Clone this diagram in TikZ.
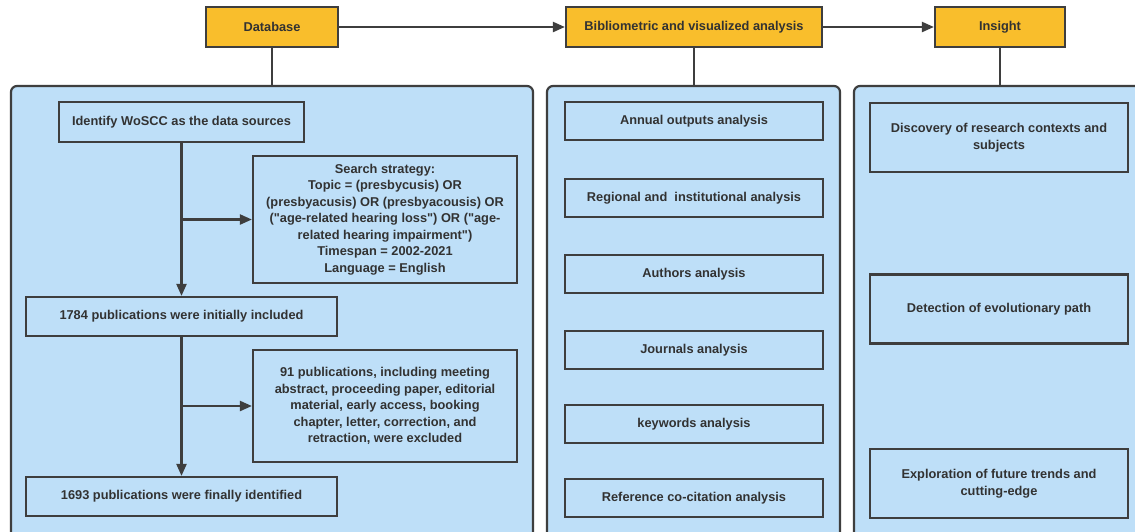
\documentclass[tikz,border=0pt]{standalone}
\usepackage{fontspec}
\setmainfont{Liberation Sans}
\usetikzlibrary{arrows.meta}
\definecolor{gold}{RGB}{249,190,44}
\definecolor{paleblue}{RGB}{190,223,248}
\definecolor{edge}{RGB}{62,62,62}
\definecolor{ink}{RGB}{50,50,50}
\newcommand{\dq}{\textquotedbl}
\tikzset{
    topbox/.style={draw=edge,fill=gold,line width=2.2pt,inner sep=0pt,text=ink,
        font=\bfseries\fontsize{12.8}{16.5}\selectfont},
    panel/.style={draw=edge,fill=paleblue,line width=2.2pt,rounded corners=6pt,inner sep=0pt},
    item/.style={draw=edge,fill=paleblue,line width=2.2pt,inner sep=0pt,text=ink,align=center,
        font=\bfseries\fontsize{12.8}{16.5}\selectfont},
    link/.style={draw=edge,line width=2.2pt},
    flow/.style={link,-{Triangle[length=12pt,width=10pt]}}
}
\begin{document}
\begin{tikzpicture}[x=1pt,y=-1pt]
        \clip (0,0) rectangle (1135,531);
        \fill[white] (0,0) rectangle (1135,531);
        %% Panels
        \node[panel,minimum width=522,minimum height=480] (dbpanel) at (272,326) {};
        \node[panel,minimum width=293,minimum height=480] (bibpanel) at (693.5,326) {};
        \node[panel,minimum width=306,minimum height=480] (inspanel) at (1007,326) {};
        %% Stage headers
        \node[topbox,minimum width=132,minimum height=40] (db) at (272,27) {Database};
        \node[topbox,minimum width=256,minimum height=40] (bib) at (694,27) {Bibliometric and visualized analysis};
        \node[topbox,minimum width=130,minimum height=40] (ins) at (1000,27) {Insight};
        \draw[flow] (db.east) -- (bib.west);
        \draw[flow] (bib.east) -- (ins.west);
        \draw[link] (db.south) -- (db.south |- dbpanel.north);
        \draw[link] (bib.south) -- (bib.south |- bibpanel.north);
        \draw[link] (ins.south) -- (ins.south |- inspanel.north);
        %% Data collection
        \node[item,minimum width=245,minimum height=40] (idf) at (181.5,122) {Identify WoSCC as the data sources};
        \node[item,minimum width=264,minimum height=127] (search) at (385,219.5) {Search strategy:\\Topic = (presbycusis) OR\\(presbyacusis) OR (presbyacousis) OR\\(\dq age-related hearing loss\dq) OR (\dq age-\\related hearing impairment\dq)\\Timespan = 2002-2021\\Language = English};
        \node[item,minimum width=311,minimum height=39] (init) at (181.5,316.5) {1784 publications were initially included};
        \node[item,minimum width=264,minimum height=112] (excl) at (385,406) {91 publications, including meeting\\abstract, proceeding paper, editorial\\material, early access, booking\\chapter, letter, correction, and\\retraction, were excluded};
        \node[item,minimum width=311,minimum height=39] (final) at (181.5,496.5) {1693 publications were finally identified};
        \coordinate (fork1) at (idf.south |- search.west);
        \coordinate (fork2) at (init.south |- excl.west);
        \draw[flow] (idf.south) -- (init.north);
        \draw[flow] (fork1) -- (search.west);
        \draw[flow] (init.south) -- (final.north);
        \draw[flow] (fork2) -- (excl.west);
        %% Analyses
        \node[item,minimum width=258,minimum height=38] (annual) at (694,121) {Annual outputs analysis};
        \node[item,minimum width=258,minimum height=38] (region) at (694,198) {Regional and\ \ institutional analysis};
        \node[item,minimum width=258,minimum height=38] (author) at (694,274) {Authors analysis};
        \node[item,minimum width=258,minimum height=38] (journal) at (694,350) {Journals analysis};
        \node[item,minimum width=258,minimum height=38] (keyword) at (694,424) {keywords analysis};
        \node[item,minimum width=258,minimum height=38] (cocite) at (694,498) {Reference co-citation analysis};
        %% Insights
        \node[item,minimum width=258,minimum height=69] (context) at (999,137.5) {Discovery of research contexts and\\subjects};
        \node[item,minimum width=258,minimum height=69] (path) at (999,309) {Detection of evolutionary path};
        \node[item,minimum width=258,minimum height=69] (trend) at (999,483.5) {Exploration of future trends and\\cutting-edge};
    \end{tikzpicture}
\end{document}
